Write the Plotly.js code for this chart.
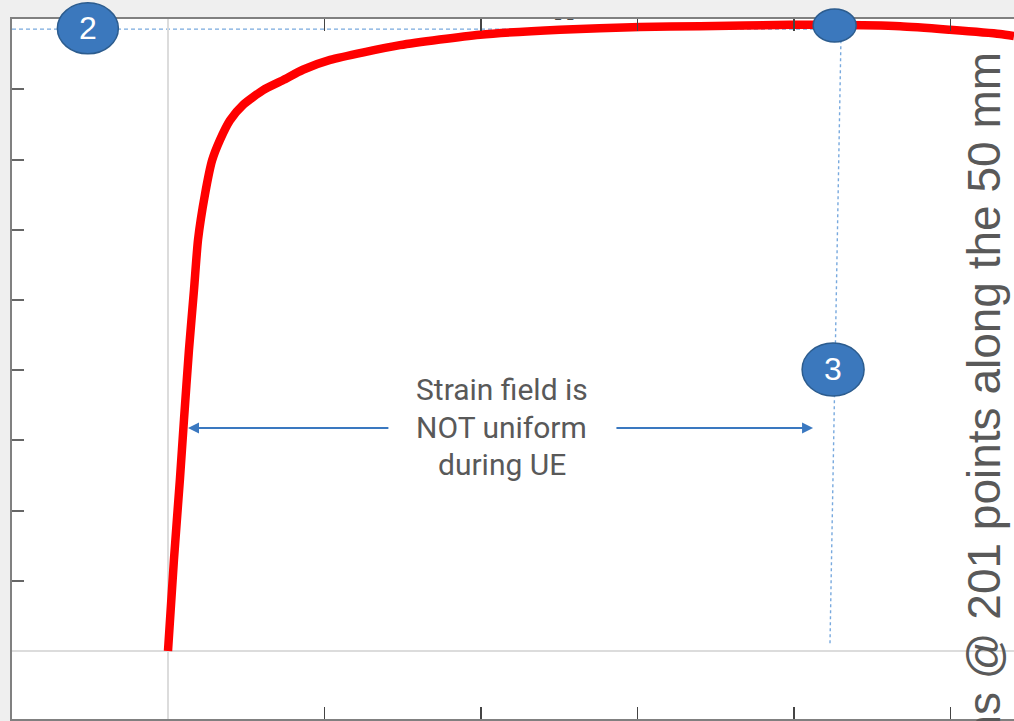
<!DOCTYPE html>
<html>
<head>
<meta charset="utf-8">
<script src="https://cdn.plot.ly/plotly-3.0.1.min.js"></script>
<style>html,body{margin:0;padding:0;background:#efefef;}#chart{width:1014px;height:721px;}</style>
</head>
<body>
<div id="chart"></div>
<script>
// Curve data (strain %, stress MPa)
const strain = [0, 0.19, 0.38, 0.51, 0.67, 0.83, 0.96, 1.18, 1.41, 1.66, 1.98, 2.40, 3.04, 3.67, 4.31, 5.18, 7.41, 9.97, 12.52, 15.08, 17.00, 19.87, 21.15, 23.39, 24.98, 26.58, 27.03];
const stress = [0, 130, 244, 329, 429, 514, 586, 650, 699, 728, 756, 778, 799, 813, 828, 842, 863, 878, 885, 889, 890, 892, 892, 890, 885, 879, 876];

// Tick values
const xTicks = [5, 10, 15, 20, 25];
const yTicks = [100, 200, 300, 400, 500, 600, 700, 800];

// Annotation points (data coordinates)
const uePoint = [21.3, 891];          // max-load point (ellipse)
const label2 = [-2.56, 887];          // callout "2"
const label3 = [21.25, 401];          // callout "3"
const xRange = [-4.984, 27.03];
const yRange = [-96.9, 900.3];

const M = {l: 12, r: 0, t: 19, b: 2};
const W = 1014, H = 721;
const pw = W - M.l - M.r, ph = H - M.t - M.b;
function px(x){ return (x - xRange[0]) / (xRange[1] - xRange[0]); }
function py(y){ return (y - yRange[0]) / (yRange[1] - yRange[0]); }
function ellipse(c, rxPx, ryPx){
  const cx = px(c[0]), cy = py(c[1]);
  return {type:'circle', xref:'paper', yref:'paper', layer:'above',
    x0: cx - rxPx/pw, x1: cx + rxPx/pw, y0: cy - ryPx/ph, y1: cy + ryPx/ph,
    fillcolor: '#3b78bd', line:{color:'#2c5c8e', width:1.5}};
}

const blueLine = '#78a9de';
const trace = {x: strain, y: stress, type:'scatter', mode:'lines',
  line:{color:'#ff0000', width:8.5, shape:'spline', smoothing:0.6}, hoverinfo:'skip'};

const txtFont = {family:'Roboto, sans-serif', size:30, color:'#595959'};
const numFont = {family:'Liberation Sans, Arial, sans-serif', size:32, color:'#ffffff'};

const layout = {
  width: W, height: H, margin: M,
  paper_bgcolor:'#efefef', plot_bgcolor:'#ffffff',
  showlegend:false,
  xaxis:{range:xRange, showgrid:false, zeroline:true, zerolinecolor:'#dcdcdc', zerolinewidth:1.5,
    showline:true, linecolor:'#808080', linewidth:2, mirror:'ticks',
    ticks:'inside', ticklen:12, tickwidth:1.5, tickcolor:'#444', tickvals:xTicks, showticklabels:false},
  yaxis:{range:yRange, showgrid:false, zeroline:true, zerolinecolor:'#dcdcdc', zerolinewidth:1.5,
    showline:true, linecolor:'#808080', linewidth:2, mirror:false,
    ticks:'inside', ticklen:12, tickwidth:2, tickcolor:'#666', tickvals:yTicks, showticklabels:false},
  shapes:[
    {type:'line', xref:'x', yref:'y', x0:xRange[0], x1:uePoint[0], y0:886, y1:886,
      line:{color:blueLine, width:1.3, dash:'4px,3px'}, layer:'below'},
    {type:'line', xref:'x', yref:'y', x0:21.50, x1:21.15, y0:870, y1:8.5,
      line:{color:blueLine, width:1.4, dash:'3px,3px'}, layer:'below'},
    ellipse(uePoint, 21.5, 16.5),
    ellipse(label2, 30.5, 25.5),
    ellipse(label3, 31, 26.5)
  ],
  annotations:[
    {x:label2[0], y:label2[1], xref:'x', yref:'y', text:'2', showarrow:false, font:numFont},
    {x:label3[0], y:label3[1], xref:'x', yref:'y', text:'3', showarrow:false, font:numFont},
    {x:0.64, y:317.7, ax:7.09, ay:317.7, xref:'x', yref:'y', axref:'x', ayref:'y', text:'',
      showarrow:true, arrowhead:2, arrowsize:1.1, arrowwidth:2, arrowcolor:'#3a78c0'},
    {x:20.61, y:317.7, ax:14.28, ay:317.7, xref:'x', yref:'y', axref:'x', ayref:'y', text:'',
      showarrow:true, arrowhead:2, arrowsize:1.1, arrowwidth:2, arrowcolor:'#3a78c0'},
    {x:10.67, y:372, xref:'x', yref:'y', text:'Strain field is', showarrow:false, font:txtFont},
    {x:10.67, y:318, xref:'x', yref:'y', text:'NOT uniform', showarrow:false, font:txtFont},
    {x:10.67, y:265, xref:'x', yref:'y', text:'during UE', showarrow:false, font:txtFont},
    {x:(983-M.l)/pw, y:(H-M.b-50)/ph, xref:'paper', yref:'paper', xanchor:'center', yanchor:'top',
      text:'ns @ 201 points along the 50 mm', textangle:-90, showarrow:false,
      font:{family:'Liberation Sans, Arial, sans-serif', size:46, color:'#595959'}},
    {x:(564-M.l)/pw, y:(H-M.b-10)/ph, xref:'paper', yref:'paper', text:'–  –', showarrow:false,
      font:{family:'Liberation Sans, Arial, sans-serif', size:11, color:'#222'}}
  ]
};

Plotly.newPlot('chart', [trace], layout, {staticPlot:true, displayModeBar:false});
</script>
</body>
</html>
